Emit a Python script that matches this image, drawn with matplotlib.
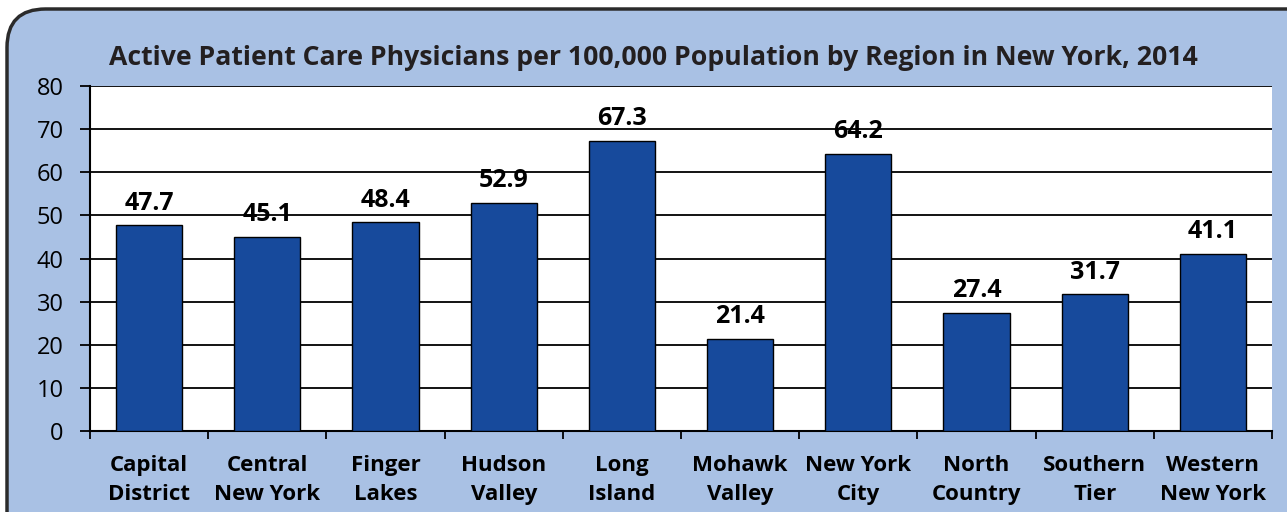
import matplotlib.pyplot as plt
from matplotlib.patches import FancyBboxPatch

regions = ['Capital\nDistrict', 'Central\nNew York', 'Finger\nLakes', 'Hudson\nValley', 'Long\nIsland',
           'Mohawk\nValley', 'New York\nCity', 'North\nCountry', 'Southern\nTier', 'Western\nNew York']
values = [47.7, 45.1, 48.4, 52.9, 67.3, 21.4, 64.2, 27.4, 31.7, 41.1]
yticks = [0, 10, 20, 30, 40, 50, 60, 70, 80]

plt.rcParams['font.family'] = ['Open Sans', 'DejaVu Sans']

fig = plt.figure(figsize=(12.87, 5.12), dpi=100)
fig.patch.set_facecolor('white')

# rounded light blue panel
panel = FancyBboxPatch((7 / 1287, -0.1), 1.2, 1.1 - 9 / 512,
                       boxstyle='round,pad=0,rounding_size=0.03',
                       transform=fig.transFigure, facecolor='#a9c1e4',
                       edgecolor='#2b2b2b', linewidth=2.5, mutation_aspect=2.5, zorder=-5)
fig.patches.append(panel)

ax = fig.add_axes([90 / 1287, 1 - 431 / 512, (1272 - 90) / 1287, (431 - 86) / 512])
ax.set_facecolor('white')

x = range(len(values))
bars = ax.bar(x, values, width=0.56, color='#174a9c', edgecolor='black', linewidth=1.0, zorder=3)

for i, v in enumerate(values):
    ax.annotate(f'{v:.1f}', (i, v), xytext=(0, 7), textcoords='offset points',
                ha='center', va='bottom', fontsize=18, fontweight='bold', color='black')

ax.set_xlim(-0.5, len(values) - 0.5)
ax.set_ylim(0, 80)
ax.set_yticks(yticks)
ax.set_yticklabels([str(t) for t in yticks], fontsize=17)
ax.yaxis.grid(True, color='black', linewidth=1.3, zorder=1)
ax.set_axisbelow(True)

ax.set_xticks([i - 0.5 for i in range(len(values) + 1)], minor=False)
ax.set_xticklabels([])
ax.set_xticks(list(x), minor=True)
ax.set_xticklabels(regions, minor=True, fontsize=16, fontweight='bold', linespacing=1.45)
ax.tick_params(axis='x', which='minor', length=0, pad=17.5)
ax.tick_params(axis='x', which='major', length=6, width=1.3, direction='out')
ax.tick_params(axis='y', length=7, width=1.3, direction='out', pad=12)

for s in ['top', 'right']:
    ax.spines[s].set_visible(False)
ax.spines['left'].set_linewidth(1.5)
ax.spines['bottom'].set_linewidth(1.5)

fig.text(0.5 * (108 + 1198) / 1287, 1 - 58 / 512,
         'Active Patient Care Physicians per 100,000 Population by Region in New York, 2014',
         ha='center', va='center', fontsize=19.2, fontweight='bold', color='#231f20')

fig.savefig('out.png', dpi=100)
